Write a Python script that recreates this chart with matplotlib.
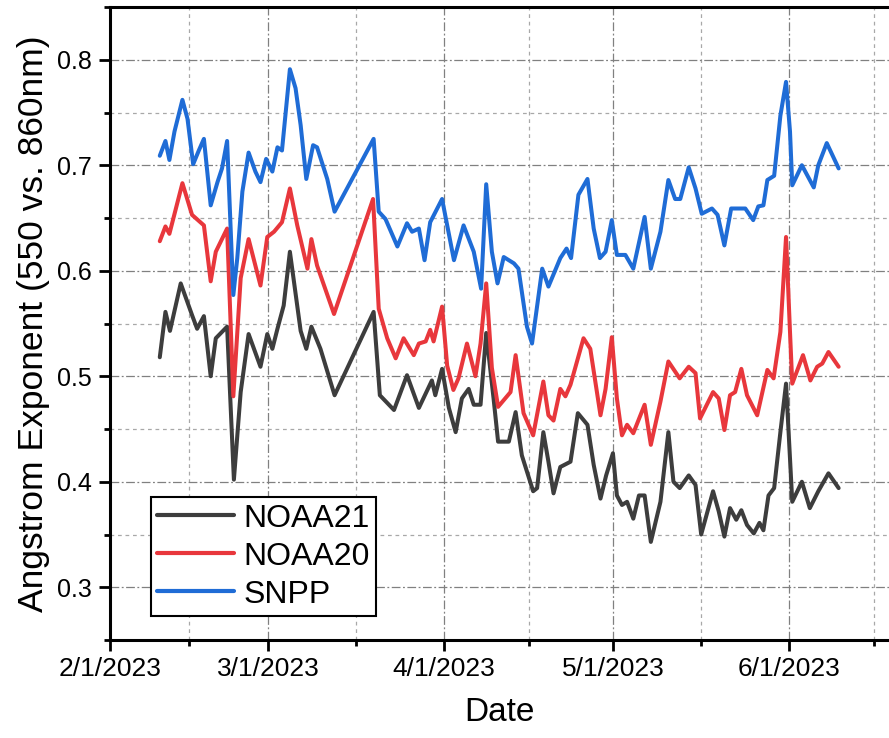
import numpy as np
import matplotlib
matplotlib.use('Agg')
import matplotlib.pyplot as plt
import matplotlib.dates as mdates
from matplotlib.ticker import FixedLocator, MultipleLocator

# --- DATA (days since 2023-02-01, Angstrom exponent) ---
START_DATE = '2023-02-01'

snpp_day = [8.8, 9.8, 10.5, 11.4, 12.8, 13.7, 14.7, 15.7, 16.6, 17.8, 19.0, 19.8,
            20.7, 21.8, 22.5, 23.4, 24.5, 25.7, 26.6, 27.6, 28.7, 29.6, 30.4, 31.8,
            32.8, 33.7, 34.7, 35.9, 36.6, 38.4, 39.7, 46.6, 47.5, 48.7, 50.8, 52.5,
            53.4, 54.6, 55.6, 56.6, 58.7, 60.8, 62.5, 64.3, 65.6, 66.5, 67.5, 68.5,
            69.6, 71.4, 72.2, 73.7, 74.6, 76.4, 77.5, 79.6, 80.7, 81.5, 82.8, 84.4,
            85.5, 86.6, 87.6, 88.7, 89.6, 91.1, 92.5, 94.5, 95.6, 97.3, 98.7, 99.9,
            100.8, 102.3, 103.5, 104.6, 106.4, 107.4, 108.6, 109.8, 112.3, 113.7,
            114.6, 115.5, 116.2, 117.4, 118.5, 119.5, 120.2, 120.6, 122.3, 124.4,
            125.2, 126.7, 128.8]
snpp_ae = [0.709, 0.723, 0.705, 0.732, 0.762, 0.744, 0.701, 0.714, 0.725, 0.662, 0.684, 0.697,
           0.723, 0.577, 0.612, 0.675, 0.712, 0.694, 0.684, 0.706, 0.694, 0.717, 0.714, 0.791,
           0.773, 0.738, 0.687, 0.719, 0.717, 0.687, 0.656, 0.725, 0.656, 0.649, 0.623, 0.645,
           0.637, 0.640, 0.610, 0.646, 0.668, 0.610, 0.643, 0.618, 0.583, 0.682, 0.618, 0.588,
           0.613, 0.607, 0.602, 0.547, 0.531, 0.602, 0.585, 0.612, 0.621, 0.612, 0.672, 0.687,
           0.640, 0.612, 0.618, 0.648, 0.615, 0.615, 0.602, 0.651, 0.602, 0.637, 0.686, 0.668,
           0.668, 0.698, 0.678, 0.654, 0.659, 0.653, 0.624, 0.659, 0.659, 0.648,
           0.661, 0.662, 0.686, 0.690, 0.747, 0.779, 0.732, 0.681, 0.700, 0.679,
           0.700, 0.721, 0.697]

noaa20_day = [8.8, 9.8, 10.5, 12.8, 14.5, 16.6, 17.8, 18.7, 20.7, 21.8, 23.1, 24.5,
              26.6, 27.8, 29.0, 30.4, 31.8, 33.1, 34.9, 35.6, 36.6, 39.6, 46.5, 47.5,
              49.0, 50.5, 51.9, 53.7, 54.6, 55.8, 56.6, 57.2, 58.7, 59.6, 60.7, 61.6,
              63.1, 64.6, 65.5, 66.5, 67.5, 68.6, 70.8, 71.7, 73.1, 74.8, 76.6, 77.5,
              78.4, 79.6, 80.5, 81.4, 83.7, 84.9, 86.7, 87.6, 88.7, 89.6, 90.5, 91.4,
              92.5, 94.5, 95.6, 97.3, 98.7, 100.7, 102.3, 103.5, 104.3, 106.6, 107.6,
              108.6, 109.6, 110.5, 111.6, 112.6, 114.4, 116.2, 117.3, 118.5, 119.5,
              120.2, 120.6, 122.5, 123.8, 125.0, 125.9, 127.0, 128.8]
noaa20_ae = [0.628, 0.642, 0.635, 0.683, 0.653, 0.643, 0.590, 0.618, 0.640, 0.481, 0.593, 0.630,
             0.586, 0.632, 0.637, 0.646, 0.678, 0.643, 0.602, 0.630, 0.605, 0.559, 0.668, 0.564,
             0.536, 0.517, 0.536, 0.520, 0.531, 0.533, 0.544, 0.533, 0.566, 0.510, 0.487, 0.498,
             0.531, 0.500, 0.531, 0.588, 0.508, 0.471, 0.485, 0.520, 0.465, 0.444, 0.495, 0.463,
             0.458, 0.488, 0.481, 0.492, 0.536, 0.526, 0.463, 0.488, 0.537, 0.479, 0.444, 0.454,
             0.446, 0.473, 0.435, 0.476, 0.514, 0.498, 0.509, 0.503, 0.460, 0.485, 0.479,
             0.449, 0.482, 0.485, 0.507, 0.482, 0.463, 0.506, 0.498, 0.542, 0.632,
             0.542, 0.493, 0.520, 0.496, 0.509, 0.512, 0.523, 0.509]

noaa21_day = [8.8, 9.8, 10.6, 12.5, 14.5, 15.4, 16.6, 17.8, 18.7, 20.7, 21.9, 23.1,
              24.5, 26.6, 27.8, 28.7, 29.6, 30.7, 31.8, 33.7, 34.7, 35.6, 37.2, 39.7,
              46.6, 47.7, 50.2, 52.5, 54.6, 56.9, 57.5, 58.7, 59.9, 61.1, 62.2, 63.4,
              64.3, 65.5, 66.5, 67.8, 68.6, 70.5, 71.7, 72.8, 74.8, 75.5, 76.6, 77.5,
              78.4, 79.6, 81.4, 82.7, 84.4, 85.5, 86.7, 87.7, 88.9, 89.6, 90.5, 91.4,
              92.5, 93.5, 94.5, 95.6, 97.3, 98.7, 99.6, 100.7, 102.3, 103.5, 104.5,
              106.6, 107.6, 108.6, 109.6, 110.7, 111.6, 112.6, 113.8, 114.8, 115.5,
              116.4, 117.4, 118.5, 119.5, 120.2, 120.6, 122.3, 123.7, 125.2, 127.0, 128.8]
noaa21_ae = [0.518, 0.561, 0.543, 0.588, 0.558, 0.545, 0.557, 0.500, 0.536, 0.547, 0.402, 0.485,
             0.540, 0.509, 0.540, 0.526, 0.545, 0.567, 0.618, 0.543, 0.526, 0.547, 0.526, 0.482,
             0.561, 0.482, 0.468, 0.501, 0.470, 0.496, 0.482, 0.507, 0.470, 0.447, 0.479, 0.488,
             0.473, 0.473, 0.541, 0.479, 0.438, 0.438, 0.466, 0.425, 0.391, 0.394, 0.447, 0.419,
             0.389, 0.414, 0.419, 0.465, 0.454, 0.416, 0.384, 0.406, 0.427, 0.387, 0.378, 0.381,
             0.365, 0.387, 0.387, 0.343, 0.381, 0.447, 0.400, 0.394, 0.406, 0.397, 0.350,
             0.391, 0.372, 0.348, 0.375, 0.364, 0.373, 0.359, 0.351, 0.361, 0.354,
             0.387, 0.394, 0.447, 0.493, 0.422, 0.381, 0.400, 0.375, 0.391, 0.408, 0.394]

SERIES = [
    ('NOAA21', noaa21_day, noaa21_ae, '#3d3d3d'),
    ('NOAA20', noaa20_day, noaa20_ae, '#e8373c'),
    ('SNPP', snpp_day, snpp_ae, '#1f6cd6'),
]

plt.rcParams['font.family'] = ['Liberation Sans', 'DejaVu Sans']

fig = plt.figure(figsize=(8.89, 7.38), dpi=100)
ax = fig.add_axes([110 / 889, 1 - 640 / 738, 1 - 110 / 889, (640 - 7) / 738])

t0 = mdates.date2num(np.datetime64(START_DATE))
for name, days, vals, color in SERIES:
    ax.plot(t0 + np.asarray(days), vals, color=color, lw=2.9, label=name,
            solid_joinstyle='round', solid_capstyle='round', zorder=3)

# axes limits / ticks
ax.set_ylim(0.25, 0.85)
ax.set_xlim(t0, t0 + 137.7)
ax.yaxis.set_major_locator(MultipleLocator(0.1))
ax.yaxis.set_minor_locator(MultipleLocator(0.05))
ax.yaxis.set_major_formatter(plt.FuncFormatter(lambda v, p: f'{v:.1f}'))

month_starts = mdates.date2num(np.arange('2023-02', '2023-08', dtype='datetime64[M]').astype('datetime64[D]'))
ax.xaxis.set_major_locator(FixedLocator(month_starts))
ax.xaxis.set_minor_locator(FixedLocator((month_starts[:-1] + month_starts[1:]) / 2))
ax.xaxis.set_major_formatter(mdates.DateFormatter('%-m/%-d/%Y'))

ax.tick_params(which='major', direction='out', length=8, width=2, labelsize=19, pad=4)
ax.tick_params(which='minor', direction='out', length=4, width=2)
ax.tick_params(axis='y', which='major', labelsize=18, pad=5)

for side in ['left', 'bottom', 'top']:
    ax.spines[side].set_linewidth(2.2)
ax.spines['right'].set_visible(False)

ax.grid(which='major', color='#808080', lw=0.9, linestyle=(0, (7, 2, 1.5, 2)), zorder=0)
ax.grid(which='minor', color='#a8a8a8', lw=0.9, linestyle=(0, (3, 3)), zorder=0)

ax.set_xlabel('Date', fontsize=24, labelpad=12)
ax.set_ylabel('Angstrom Exponent (550 vs. 860nm)', fontsize=25.5, labelpad=5)

leg = ax.legend(loc='lower left', bbox_to_anchor=(151 / 889, 1 - 616 / 738),
                bbox_transform=fig.transFigure, fontsize=23, frameon=True,
                fancybox=False, edgecolor='black', framealpha=1,
                handlelength=2.4, handletextpad=0.3, labelspacing=0.25,
                borderpad=0.2, borderaxespad=0)
leg.get_frame().set_linewidth(1.5)
for h in leg.get_lines():
    h.set_linewidth(3)

fig.savefig('out.png', dpi=100)
